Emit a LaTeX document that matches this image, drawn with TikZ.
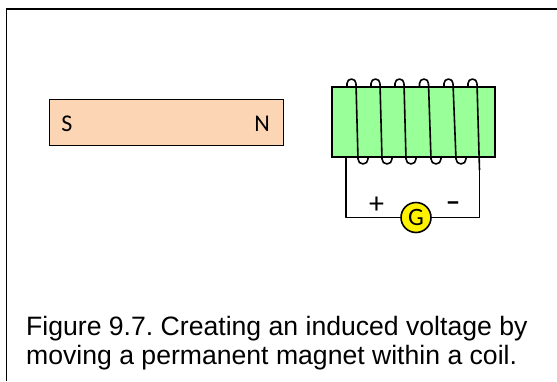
\documentclass[tikz,border=0pt]{standalone}
\usepackage{fontspec}
\setmainfont{Liberation Sans}
\newfontfamily\labelfont{Carlito}
\definecolor{magnetfill}{RGB}{252,213,180}
\definecolor{corefill}{RGB}{153,255,153}
\begin{document}
\begin{tikzpicture}[
    x=1pt, y=-1pt,
    frameline/.style={line width=1.3pt},
    wire/.style={line width=1.6pt, line join=round},
    barbox/.style={draw, line width=1.8pt, inner sep=0pt, minimum height=46pt},
    polelabel/.style={font=\labelfont\fontsize{24}{26}\selectfont, inner sep=0pt}
]

    % Keep the page at the size of the reference
    \useasboundingbox (0, 0) rectangle (557, 381);

    % Frame, open at the right and at the bottom
    \draw[frameline] (6.5, 381) -- (6.5, 9) -- (557, 9);

    % Permanent magnet
    \node[barbox, fill=magnetfill, minimum width=234pt] (magnet) at (166.5, 122.5) {};
    \node[polelabel] (south) at (67, 124) {S};
    \node[polelabel] (north) at (262, 124) {N};

    % Rear half of each turn, above and below the core
    \foreach \x in {347, 371, 395, 419.5, 444, 468} {
        \draw[wire] (\x, 90) -- (\x, 83.5) arc[start angle=180, end angle=360, radius=4.5];
    }
    \foreach \x in {368, 392, 416, 441, 466} {
        \draw[wire] (\x, 154) -- (\x, 159);
    }

    % Core
    \node[barbox, fill=corefill, minimum width=163pt, minimum height=70pt] (core) at (413.5, 122) {};

    % Front of the turns, each one ends in the loop under the core
    \foreach \x/\xb in {356/358, 380/382, 404/406, 428.5/431, 453/456} {
        \draw[wire] (\x, 83.5) -- (\xb, 159) arc[start angle=180, end angle=0, radius=5];
    }
    \draw[wire] (477, 83.5) -- (479.5, 170);

    % Galvanometer and its leads
    \node[circle, draw, fill=yellow, line width=1.6pt, minimum size=30pt, inner sep=0pt,
        font=\labelfont\fontsize{25}{27}\selectfont] (meter) at (416, 217.5) {G};
    \node[polelabel, font=\labelfont\fontsize{30}{32}\selectfont] (plus) at (376.5, 205.5) {+};
    \node[polelabel, font=\labelfont\bfseries\fontsize{27}{29}\selectfont] (minus) at (453, 207) {\char"2212};
    \coordinate (leadleft) at (346, 158);
    \coordinate (leadright) at (479.5, 168);
    \draw[wire] (leadleft) |- (meter.west);
    \draw[wire] (leadright) |- (meter.east);

    % Caption
    \node[anchor=west, inner sep=0pt, align=left, font=\frenchspacing\fontsize{26.6}{29.5}\selectfont] (caption) at (26, 343)
        {Figure 9.7. Creating an induced voltage by\\moving a permanent magnet within a coil.};

\end{tikzpicture}
\end{document}
